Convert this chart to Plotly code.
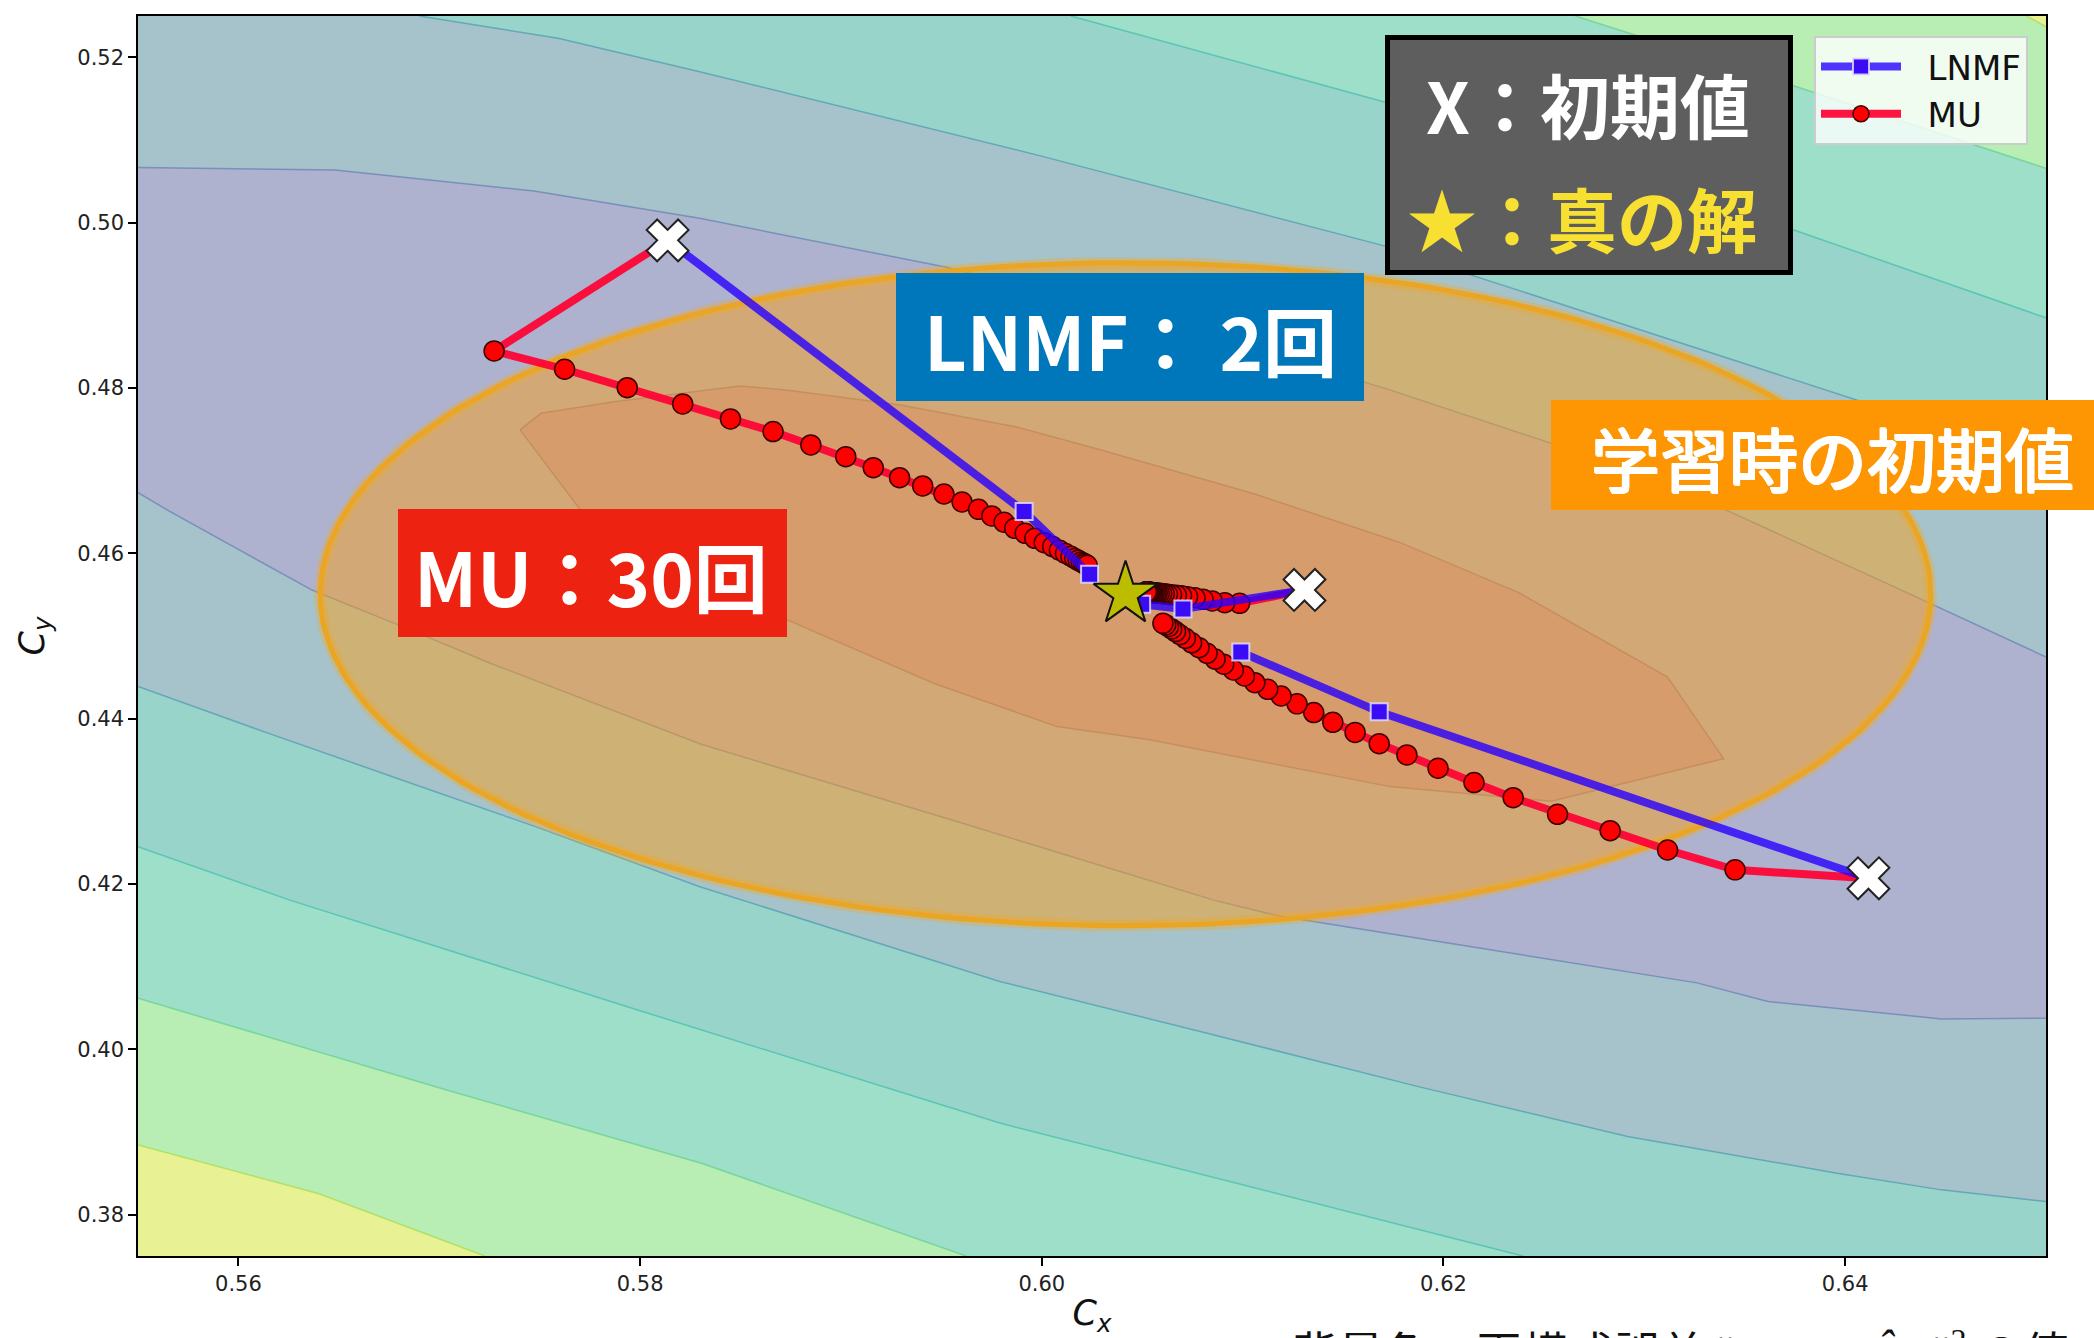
import numpy as np
import plotly.graph_objects as go

# ---------------------------------------------------------------------------
# Axis extents
X_RANGE = [0.555, 0.650]
Y_RANGE = [0.375, 0.525]

# Initial values (X markers) and the true solution (star)
init_x = [0.58137, 0.61308, 0.64116]
init_y = [0.49786, 0.45557, 0.42069]
true_x = [0.60417]
true_y = [0.45505]

# LNMF iterates: start + 2 updates
lnmf1_x = [0.58137, 0.59912, 0.60238]
lnmf1_y = [0.49786, 0.46507, 0.45747]
lnmf2_x = [0.61308, 0.60703, 0.60497]
lnmf2_y = [0.45557, 0.45327, 0.45384]
lnmf3_x = [0.64116, 0.61680, 0.60991]
lnmf3_y = [0.42069, 0.44083, 0.44805]

# MU iterates: start + 30 updates
mu1_x = [0.58137, 0.57273, 0.57624, 0.57936, 0.58212, 0.58450, 0.58662, 0.58850,
         0.59024, 0.59161, 0.59292, 0.59407, 0.59513, 0.59603, 0.59685, 0.59751,
         0.59812, 0.59865, 0.59917, 0.59965, 0.60012, 0.60054, 0.60088, 0.60118,
         0.60145, 0.60164, 0.60181, 0.60196, 0.60208, 0.60218, 0.60226]
mu1_y = [0.49786, 0.48448, 0.48227, 0.48004, 0.47807, 0.47626, 0.47473, 0.47311,
         0.47169, 0.47036, 0.46915, 0.46815, 0.46718, 0.46621, 0.46532, 0.46452,
         0.46376, 0.46303, 0.46242, 0.46182, 0.46128, 0.46082, 0.46038, 0.45998,
         0.45965, 0.45938, 0.45915, 0.45896, 0.45880, 0.45867, 0.45855]
mu2_x = [0.61308, 0.60985, 0.60911, 0.60849, 0.60803, 0.60763, 0.60726, 0.60696,
         0.60670, 0.60646, 0.60626, 0.60610, 0.60597, 0.60585, 0.60575, 0.60567,
         0.60559, 0.60553, 0.60548, 0.60543, 0.60539, 0.60536, 0.60533, 0.60531,
         0.60529, 0.60527, 0.60525, 0.60524, 0.60523, 0.60522, 0.60521]
mu2_y = [0.45557, 0.45395, 0.45403, 0.45424, 0.45444, 0.45463, 0.45476, 0.45486,
         0.45494, 0.45500, 0.45505, 0.45510, 0.45513, 0.45516, 0.45519, 0.45521,
         0.45523, 0.45524, 0.45526, 0.45528, 0.45529, 0.45529, 0.45531, 0.45531,
         0.45532, 0.45532, 0.45532, 0.45534, 0.45534, 0.45534, 0.45534]
mu3_x = [0.64116, 0.63452, 0.63116, 0.62830, 0.62568, 0.62347, 0.62152, 0.61973,
         0.61818, 0.61680, 0.61560, 0.61449, 0.61354, 0.61271, 0.61192, 0.61125,
         0.61061, 0.61009, 0.60954, 0.60906, 0.60863, 0.60823, 0.60783, 0.60746,
         0.60715, 0.60688, 0.60666, 0.60647, 0.60631, 0.60617, 0.60603]
mu3_y = [0.42069, 0.42171, 0.42411, 0.42645, 0.42843, 0.43044, 0.43227, 0.43400,
         0.43561, 0.43697, 0.43834, 0.43956, 0.44074, 0.44179, 0.44274, 0.44355,
         0.44435, 0.44516, 0.44589, 0.44658, 0.44721, 0.44791, 0.44859, 0.44918,
         0.44972, 0.45015, 0.45053, 0.45085, 0.45112, 0.45135, 0.45153]

# Region of initial values used in training (circle around the true solution)
init_region_center = (0.60417, 0.45505)
init_region_radius = 0.0401

# ---------------------------------------------------------------------------
# Background: level curves of the reconstruction error surface
# lower-left boundaries (left edge -> bottom / right edge)
lvl65_low_x = [0.555, 0.56401, 0.57226]
lvl65_low_y = [0.38843, 0.38253, 0.375]
lvl54_low_x = [0.555, 0.57036, 0.58305, 0.59623]
lvl54_low_y = [0.40618, 0.39508, 0.38623, 0.375]
lvl43_low_x = [0.555, 0.56256, 0.57988, 0.59791, 0.62396]
lvl43_low_y = [0.42452, 0.41805, 0.40476, 0.39108, 0.375]
lvl32_low_x = [0.555, 0.56147, 0.56813, 0.57479, 0.58297, 0.59791, 0.60833, 0.61875,
               0.62916, 0.63959, 0.64479, 0.650]
lvl32_low_y = [0.44390, 0.43825, 0.43259, 0.42694, 0.41967, 0.40820, 0.40189, 0.39549,
               0.38946, 0.38502, 0.38300, 0.38158]
lvl21_low_x = [0.555, 0.55658, 0.55970, 0.56369, 0.56814, 0.57260, 0.58297, 0.59573,
               0.60856, 0.61181, 0.62225, 0.63262, 0.63615, 0.64479, 0.650]
lvl21_low_y = [0.46733, 0.46507, 0.46087, 0.45553, 0.45117, 0.44665, 0.43696, 0.42759,
               0.41805, 0.41612, 0.41208, 0.40804, 0.40578, 0.40368, 0.40376]
# upper-right boundaries (top / left edge -> right edge)
lvl65_up_x = [0.64904, 0.650]
lvl65_up_y = [0.525, 0.52371]
lvl54_up_x = [0.62657, 0.63732, 0.650]
lvl54_up_y = [0.525, 0.51666, 0.50658]
lvl43_up_x = [0.60145, 0.61720, 0.63741, 0.650]
lvl43_up_y = [0.525, 0.51450, 0.49915, 0.48849]
lvl32_up_x = [0.56901, 0.57592, 0.58297, 0.60008, 0.61720, 0.62112, 0.64057, 0.650]
lvl32_up_y = [0.525, 0.52230, 0.51826, 0.50799, 0.49710, 0.49387, 0.47855, 0.47040]
lvl21_up_x = [0.555, 0.56482, 0.57472, 0.58297, 0.59520, 0.60597, 0.61733, 0.62538,
              0.63408, 0.64253, 0.650]
lvl21_up_y = [0.50666, 0.50637, 0.50384, 0.50053, 0.49463, 0.48817, 0.47977, 0.47330,
              0.46523, 0.45586, 0.44746]
# innermost (minimum) level region
lvl0_x = [0.57402, 0.57506, 0.57869, 0.58345, 0.58496, 0.58727, 0.59298, 0.59869,
          0.60297, 0.61062, 0.61780, 0.62378, 0.63116, 0.63395, 0.62538, 0.61733,
          0.60537, 0.60075, 0.59467, 0.58729, 0.58137, 0.57698, 0.57479]
lvl0_y = [0.47494, 0.47694, 0.47834, 0.47977, 0.48025, 0.47977, 0.47794, 0.47532,
          0.47250, 0.46717, 0.46135, 0.45521, 0.44503, 0.43516, 0.43001, 0.43178,
          0.43744, 0.43905, 0.44423, 0.45198, 0.45909, 0.46539, 0.47250]

# translucent viridis bands as they appear over white
band_colors = ["#B698BA", "#AEB2CE", "#A6C3CB", "#99D4CB", "#9DDFC8", "#B8EDB4", "#E8F194"]
line_colors = ["rgba(110,80,110,0.45)", "rgba(80,110,170,0.55)", "rgba(50,140,165,0.55)",
               "rgba(40,180,160,0.55)", "rgba(80,200,130,0.55)", "rgba(160,215,60,0.6)"]

# ---------------------------------------------------------------------------
PLOT_L, PLOT_R, PLOT_T, PLOT_B = 138, 2046, 16, 1256
FIG_W, FIG_H = 2094, 1338


def paper_x(px):
    return (px - PLOT_L) / (PLOT_R - PLOT_L)


def paper_y(py):
    return 1 - (py - PLOT_T) / (PLOT_B - PLOT_T)


def band_polygon(low_x, low_y, up_x, up_y):
    xs, ys = list(low_x), list(low_y)
    if ys[-1] <= Y_RANGE[0]:
        xs.append(X_RANGE[1]); ys.append(Y_RANGE[0])
    xs += list(up_x)[::-1]; ys += list(up_y)[::-1]
    if up_y[0] >= Y_RANGE[1]:
        xs.append(X_RANGE[0]); ys.append(Y_RANGE[1])
    xs.append(xs[0]); ys.append(ys[0])
    return xs, ys


fig = go.Figure()

# background band (highest level) fills the whole plot area
fig.add_trace(go.Scatter(
    x=[X_RANGE[0], X_RANGE[1], X_RANGE[1], X_RANGE[0], X_RANGE[0]],
    y=[Y_RANGE[0], Y_RANGE[0], Y_RANGE[1], Y_RANGE[1], Y_RANGE[0]],
    fill="toself", fillcolor=band_colors[6], line=dict(width=0),
    mode="lines", hoverinfo="skip", showlegend=False))

bands = [
    (lvl65_low_x, lvl65_low_y, lvl65_up_x, lvl65_up_y, band_colors[5]),
    (lvl54_low_x, lvl54_low_y, lvl54_up_x, lvl54_up_y, band_colors[4]),
    (lvl43_low_x, lvl43_low_y, lvl43_up_x, lvl43_up_y, band_colors[3]),
    (lvl32_low_x, lvl32_low_y, lvl32_up_x, lvl32_up_y, band_colors[2]),
    (lvl21_low_x, lvl21_low_y, lvl21_up_x, lvl21_up_y, band_colors[1]),
]
for lx, ly, ux, uy, col in bands:
    px_, py_ = band_polygon(lx, ly, ux, uy)
    fig.add_trace(go.Scatter(x=px_, y=py_, fill="toself", fillcolor=col,
                             line=dict(width=0), mode="lines",
                             hoverinfo="skip", showlegend=False))
fig.add_trace(go.Scatter(x=lvl0_x + lvl0_x[:1], y=lvl0_y + lvl0_y[:1], fill="toself",
                         fillcolor=band_colors[0], line=dict(width=0), mode="lines",
                         hoverinfo="skip", showlegend=False))

# contour lines
contour_lines = [
    (lvl65_low_x, lvl65_low_y, line_colors[5]), (lvl65_up_x, lvl65_up_y, line_colors[5]),
    (lvl54_low_x, lvl54_low_y, line_colors[4]), (lvl54_up_x, lvl54_up_y, line_colors[4]),
    (lvl43_low_x, lvl43_low_y, line_colors[3]), (lvl43_up_x, lvl43_up_y, line_colors[3]),
    (lvl32_low_x, lvl32_low_y, line_colors[2]), (lvl32_up_x, lvl32_up_y, line_colors[2]),
    (lvl21_low_x, lvl21_low_y, line_colors[1]), (lvl21_up_x, lvl21_up_y, line_colors[1]),
    (lvl0_x + lvl0_x[:1], lvl0_y + lvl0_y[:1], line_colors[0]),
]
for cx_, cy_, col in contour_lines:
    fig.add_trace(go.Scatter(x=cx_, y=cy_, mode="lines", line=dict(color=col, width=1.5),
                             hoverinfo="skip", showlegend=False))

# region of training initial values
theta = np.linspace(0, 2 * np.pi, 241)
circ_x = init_region_center[0] + init_region_radius * np.cos(theta)
circ_y = init_region_center[1] + init_region_radius * np.sin(theta)
fig.add_trace(go.Scatter(x=circ_x, y=circ_y, fill="toself",
                         fillcolor="rgba(245,160,30,0.5)",
                         line=dict(color="rgba(240,170,40,0.35)", width=12),
                         mode="lines", hoverinfo="skip", showlegend=False))
fig.add_trace(go.Scatter(x=circ_x, y=circ_y, mode="lines",
                         line=dict(color="rgba(236,164,30,0.95)", width=5),
                         hoverinfo="skip", showlegend=False))

# MU trajectories
for i, (tx, ty) in enumerate([(mu1_x, mu1_y), (mu2_x, mu2_y), (mu3_x, mu3_y)]):
    fig.add_trace(go.Scatter(
        x=tx, y=ty, mode="lines+markers", name="\u00a0\u00a0MU",
        line=dict(color="rgba(255,0,50,0.92)", width=8),
        marker=dict(symbol="circle", size=20, color="#FF0000",
                    line=dict(color="#3A0000", width=1.5)),
        showlegend=(i == 0), legendrank=2, hoverinfo="skip"))

# LNMF trajectories
for i, (tx, ty) in enumerate([(lnmf1_x, lnmf1_y), (lnmf2_x, lnmf2_y), (lnmf3_x, lnmf3_y)]):
    fig.add_trace(go.Scatter(
        x=tx, y=ty, mode="lines+markers", name="\u00a0\u00a0LNMF",
        line=dict(color="rgba(40,0,255,0.8)", width=8),
        marker=dict(symbol="square", size=17, color="#3A0CF5",
                    line=dict(color="rgba(225,220,255,0.85)", width=2)),
        showlegend=(i == 0), legendrank=1, hoverinfo="skip"))

# true solution
fig.add_trace(go.Scatter(x=true_x, y=true_y, mode="markers",
                         marker=dict(symbol="star", size=48, color="#BDBD00",
                                     line=dict(color="#111111", width=2)),
                         showlegend=False, hoverinfo="skip"))
# initial values
fig.add_trace(go.Scatter(x=init_x, y=init_y, mode="markers",
                         marker=dict(symbol="x", size=37, color="#FFFFFF",
                                     line=dict(color="#222222", width=2)),
                         showlegend=False, hoverinfo="skip"))

# ---------------------------------------------------------------------------
# Callout boxes
JP = "Noto Sans CJK JP"
boxes = [
    dict(x0=1387.5, y0=37.5, x1=1790.5, y1=272.5, fill="#5E5E5E", edge="#000000", lw=5),
    dict(x0=896, y0=273, x1=1364, y1=401, fill="#0077BB", edge=None, lw=0),
    dict(x0=398, y0=509, x1=787, y1=637, fill="#EE2211", edge=None, lw=0),
    dict(x0=1551, y0=400, x1=2120, y1=510, fill="#FD9602", edge=None, lw=0),
]
shapes = []
for b in boxes:
    shapes.append(dict(type="rect", xref="paper", yref="paper", layer="above",
                       x0=paper_x(b["x0"]), x1=paper_x(b["x1"]),
                       y0=paper_y(b["y1"]), y1=paper_y(b["y0"]),
                       fillcolor=b["fill"],
                       line=dict(color=b["edge"] or b["fill"], width=b["lw"])))

# medium-weight look for the orange caption (regular face with a thin halo)
medium = ("1px 0 0 #FFFFFF, -1px 0 0 #FFFFFF, 0 1px 0 #FFFFFF, 0 -1px 0 #FFFFFF, "
          "1px 1px 0 #FFFFFF, -1px -1px 0 #FFFFFF")
labels = [
    dict(text="X：初期値", x=1588, y=104, size=70, color="#FFFFFF", weight="bold", shadow="none"),
    dict(text="★：真の解", x=1582, y=217, size=70, color="#F7E032", weight="bold", shadow="none"),
    dict(text="LNMF： 2回", x=1130, y=338, size=74, color="#FFFFFF", weight="bold", shadow="none"),
    dict(text="MU：30回", x=591, y=574, size=74, color="#FFFFFF", weight="bold", shadow="none"),
    dict(text="学習時の初期値", x=1832, y=457, size=69, color="#FFFFFF", weight="normal",
         shadow=medium),
]
annotations = []
for t in labels:
    annotations.append(dict(text=t["text"], xref="paper", yref="paper",
                            x=paper_x(t["x"]), y=paper_y(t["y"]),
                            xanchor="center", yanchor="middle", showarrow=False,
                            font=dict(family=JP, size=t["size"], color=t["color"],
                                      weight=t["weight"], shadow=t["shadow"])))

serif = "<span style=\"font-family:'Liberation Serif'\">"
annotations.append(dict(
    text="背景色：再構成誤差 " + serif + "||<i>X</i> − <i>D</i>*<i>Ĉ</i><i>H</i>||<sup>2</sup></span> の値",
    xref="paper", yref="paper", x=paper_x(1290), y=paper_y(1315),
    xanchor="left", yanchor="top", showarrow=False,
    font=dict(family=JP, size=46, color="#111111")))

axis_common = dict(
    showline=True, linecolor="#000000", linewidth=1.5, mirror=True,
    ticks="outside", ticklen=8, tickwidth=1.5, tickcolor="#000000",
    showgrid=False, zeroline=False, tickformat=".2f", dtick=0.02,
    tickfont=dict(family="DejaVu Sans", size=21, color="#222222"),
)

fig.update_layout(
    width=FIG_W, height=FIG_H,
    margin=dict(l=PLOT_L, r=FIG_W - PLOT_R, t=PLOT_T, b=FIG_H - PLOT_B, pad=0,
                autoexpand=False),
    paper_bgcolor="#FFFFFF", plot_bgcolor="#FFFFFF",
    xaxis=dict(range=X_RANGE, tick0=0.56,
               title=dict(text="<i>C<sub>x</sub></i>", standoff=10,
                          font=dict(family="DejaVu Sans", size=35, color="#111111")),
               **axis_common),
    yaxis=dict(range=Y_RANGE, tick0=0.38,
               title=dict(text="<i>C<sub>y</sub></i>", standoff=22,
                          font=dict(family="DejaVu Sans", size=35, color="#111111")),
               **axis_common),
    legend=dict(x=paper_x(1814), y=paper_y(36), xanchor="left", yanchor="top",
                bgcolor="rgba(255,255,255,0.8)", bordercolor="#CCCCCC", borderwidth=2,
                font=dict(family="DejaVu Sans", size=34, color="#111111"),
                itemwidth=80, tracegroupgap=0),
    shapes=shapes, annotations=annotations,
)

fig.write_html("out.html", config={"displayModeBar": False})
